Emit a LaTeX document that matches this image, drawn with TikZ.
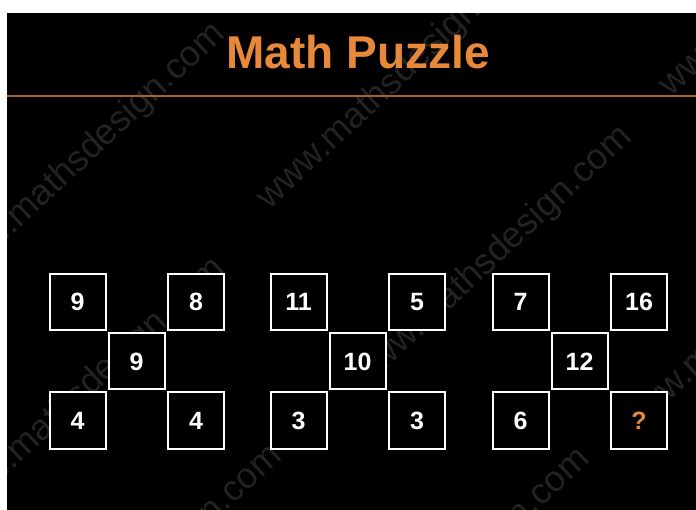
\documentclass[tikz,border=0pt]{standalone}
\usepackage{fontspec}
\setmainfont{Liberation Sans}
\definecolor{puzorange}{RGB}{232,136,58}
\definecolor{linebrown}{RGB}{165,98,42}
\definecolor{wmark}{RGB}{34,34,34}
\tikzset{
  numbox/.style={draw=white, line width=2pt, fill=black, minimum width=56pt, minimum height=56pt,
    inner sep=0pt, text=white, font=\fontsize{25}{25}\selectfont\bfseries},
  wmtext/.style={text=wmark, rotate=43, font=\fontsize{36}{36}\selectfont},
  titletext/.style={text=puzorange, font=\fontsize{46}{46}\selectfont\bfseries}
}
\begin{document}
\begin{tikzpicture}[x=1pt,y=-1pt]
\useasboundingbox (0,0) rectangle (696,510);
\fill[black] (7,13) rectangle (696,510);
% watermarks
\begin{scope}
\clip (7,13) rectangle (696,510);
\node[wmtext] (wm1) at (85,155) {www.mathsdesign.com};
\node[wmtext] (wm2) at (398,78) {www.mathsdesign.com};
\node[wmtext] (wm3) at (492,258) {www.mathsdesign.com};
\node[wmtext] (wm4) at (85,390) {www.mathsdesign.com};
\node[wmtext] (wm5) at (142,577) {www.mathsdesign.com};
\node[wmtext] (wm6) at (450,580) {www.mathsdesign.com};
\node[wmtext] (wm7) at (760,305) {www.mathsdesign.com};
\node[wmtext] (wm8) at (800,-35) {www.mathsdesign.com};
\end{scope}
% white margins
\fill[white] (0,0) rectangle (696,13);
\fill[white] (0,0) rectangle (7,510);
% title
\node[titletext, anchor=base] (title) at (358,69) {Math Puzzle};
\coordinate (rl) at (7,96);
\coordinate (rr) at (696,96);
\draw[linebrown, line width=1.5pt] (rl) -- (rr);
% group 1
\node[numbox] (a1) at (77.5,302) {9};
\node[numbox] (a2) at (196,302) {8};
\node[numbox] (a3) at (136.5,361.5) {9};
\node[numbox] (a4) at (77.5,420.5) {4};
\node[numbox] (a5) at (196,420.5) {4};
% group 2
\node[numbox] (b1) at (298.5,302) {11};
\node[numbox] (b2) at (417,302) {5};
\node[numbox] (b3) at (357.5,361.5) {10};
\node[numbox] (b4) at (298.5,420.5) {3};
\node[numbox] (b5) at (417,420.5) {3};
% group 3
\node[numbox] (c1) at (520.5,302) {7};
\node[numbox] (c2) at (639,302) {16};
\node[numbox] (c3) at (579.5,361.5) {12};
\node[numbox] (c4) at (520.5,420.5) {6};
\node[numbox, text=puzorange] (c5) at (639,420.5) {?};
\end{tikzpicture}
\end{document}
